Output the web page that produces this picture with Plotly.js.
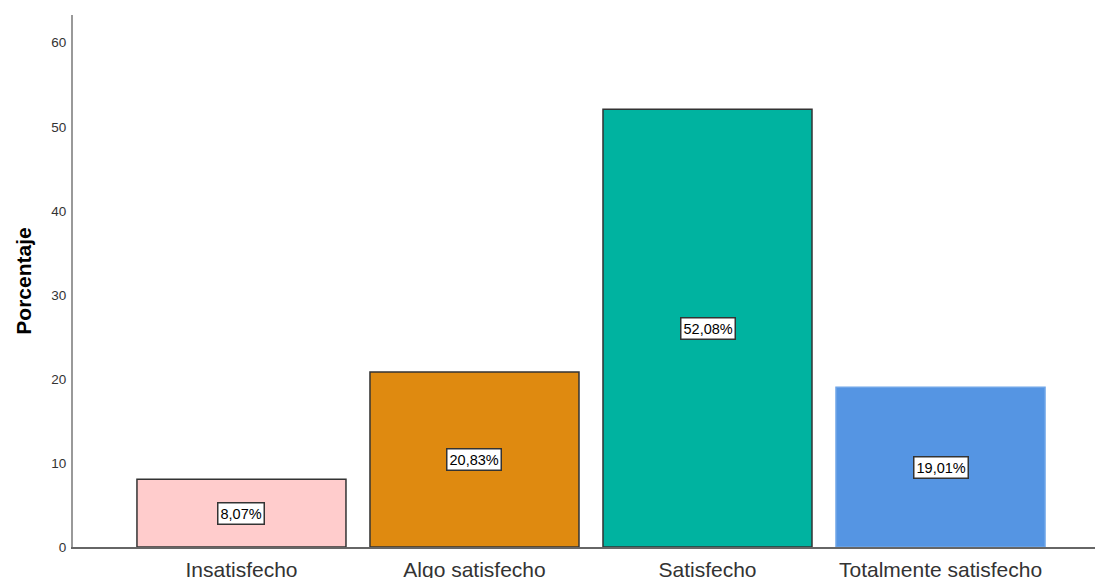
<!DOCTYPE html>
<html>
<head>
<meta charset="utf-8">
<script src="https://cdn.plot.ly/plotly-3.0.1.min.js"></script>
<style>
  html, body { margin: 0; padding: 0; background: #ffffff; }
  #chart { width: 1095px; height: 578px; }
</style>
</head>
<body>
<div id="chart"></div>
<script>
// Satisfaction levels and their percentages
const categories = ["Insatisfecho", "Algo satisfecho", "Satisfecho", "Totalmente satisfecho"];
const percentages = [8.07, 20.83, 52.08, 19.01];
const valueLabels = ["8,07%", "20,83%", "52,08%", "19,01%"];
const barColors = ["#FFCCCC", "#DF8A10", "#00B3A0", "#5595E3"];
const outlineColors = ["#333333", "#333333", "#333333", "#6FA5E8"];
const yTicks = [0, 10, 20, 30, 40, 50, 60];

const bars = {
  type: "bar",
  x: categories,
  y: percentages,
  width: 0.897,
  marker: {
    color: barColors,
    line: { color: outlineColors, width: 1.5 }
  },
  hoverinfo: "skip"
};

// Boxed value labels, centred halfway up each bar
const labels = categories.map((c, i) => ({
  x: c,
  y: percentages[i] / 2,
  xref: "x",
  yref: "y",
  text: valueLabels[i],
  showarrow: false,
  font: { family: "Liberation Sans, Arial, sans-serif", size: 14.5, color: "#000000" },
  bgcolor: "#ffffff",
  bordercolor: "#333333",
  borderwidth: 1.5,
  borderpad: 2
}));

const layout = {
  width: 1095,
  height: 578,
  margin: { l: 73, r: 0, t: 15, b: 31 },
  paper_bgcolor: "#ffffff",
  plot_bgcolor: "#ffffff",
  showlegend: false,
  font: { family: "Liberation Sans, Arial, sans-serif", color: "#333333" },
  xaxis: {
    type: "category",
    range: [-0.723, 3.663],
    showgrid: false,
    zeroline: false,
    showline: true,
    linecolor: "#666666",
    linewidth: 1.5,
    ticks: "",
    ticklabelstandoff: 3,
    tickfont: { size: 21, color: "#333333" },
    fixedrange: true
  },
  yaxis: {
    range: [0, 63.3],
    tickvals: yTicks,
    ticktext: yTicks.map(String),
    showgrid: false,
    zeroline: false,
    showline: true,
    linecolor: "#999999",
    linewidth: 2,
    ticks: "",
    ticklabelstandoff: 2,
    tickfont: { size: 13.5, color: "#333333" },
    title: {
      text: "<b>Porcentaje</b>",
      font: { size: 21, color: "#000000" },
      standoff: 14
    },
    fixedrange: true
  },
  annotations: labels
};

Plotly.newPlot("chart", [bars], layout, { displayModeBar: false, staticPlot: true });
</script>
</body>
</html>
